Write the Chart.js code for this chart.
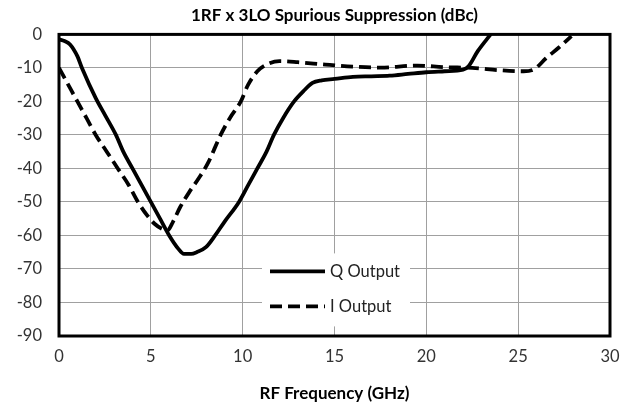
<!DOCTYPE html>
<html>
<head>
<meta charset="utf-8">
<script src="https://cdn.jsdelivr.net/npm/chart.js@4/dist/chart.umd.min.js"></script>
<style>
  html, body { margin: 0; padding: 0; background: #fff; }
  #chart { display: block; }
</style>
</head>
<body>
<canvas id="chart" width="633" height="415"></canvas>
<script>
// ===== data =====
const qFreq = [0, 0.3, 0.6, 1.0, 1.25, 2.0, 2.5, 3.1, 3.5, 4.0, 4.5, 5.0, 5.5, 6.0, 6.5, 6.8, 7.2, 7.5, 8.0, 8.5, 9.0, 9.8, 10.3, 10.8, 11.3, 11.7, 12.2, 12.8, 13.3, 13.8, 14.3, 15, 16, 17, 18, 19, 20, 21, 22, 22.3, 22.8, 23.5];
const qValues = [-1.5, -2, -3, -6.5, -10, -19, -24, -30, -35, -40, -45, -50, -55, -60, -64, -65.5, -65.5, -65, -63.5, -60, -56, -50, -45, -40, -35, -30, -25, -20, -17, -14.5, -13.7, -13.3, -12.7, -12.5, -12.3, -11.8, -11.3, -11, -10.5, -9.5, -5, 0];

const iFreq = [0, 0.5, 1.0, 1.5, 2.0, 2.6, 3.2, 3.8, 4.3, 4.8, 5.2, 5.6, 5.9, 6.2, 6.6, 7.1, 7.6, 8.1, 8.8, 9.3, 9.9, 10.3, 10.8, 11.3, 12.0, 13.0, 14.5, 16, 17.5, 19.5, 21, 22.5, 24, 25.3, 25.9, 26.5, 27.2, 27.9];
const iValues = [-10, -15, -20, -25, -30, -35, -40, -45, -50, -54, -56.5, -58, -58.5, -56, -51.5, -47, -43, -38.5, -30, -25, -20, -15, -11, -9, -8, -8.3, -9, -9.6, -9.9, -9.3, -9.8, -10, -10.7, -11, -10.3, -7.2, -4, -0.5];

const xTickValues = [0, 5, 10, 15, 20, 25, 30];
const yTickValues = [0, -10, -20, -30, -40, -50, -60, -70, -80, -90];

const seriesNames = ["Q Output", "I Output"];
const chartTitle = "1RF x 3LO Spurious Suppression (dBc)";
const xTitle = "RF Frequency (GHz)";

const FONT = "Lato, 'Open Sans', sans-serif";

function toPoints(xs, ys) {
  return xs.map((x, i) => ({ x, y: ys[i] }));
}

// ===== plot border (all four sides) =====
const plotBorder = {
  id: "plotBorder",
  afterDraw(chart) {
    const { ctx, chartArea: a } = chart;
    ctx.save();
    ctx.strokeStyle = "#000";
    ctx.lineWidth = 3;
    ctx.strokeRect(a.left, a.top, a.right - a.left, a.bottom - a.top);
    ctx.restore();
  }
};

// ===== legend inside the plot =====
const insideLegend = {
  id: "insideLegend",
  afterDatasetsDraw(chart) {
    const { ctx, chartArea: a } = chart;
    const boxL = a.left + 203, boxT = a.top + 219;
    ctx.save();
    ctx.fillStyle = "#fff";
    ctx.fillRect(boxL, boxT, 148, 73);

    chart.data.datasets.forEach((ds, i) => {
      const rowY = boxT + 18 + i * 35;
      ctx.beginPath();
      ctx.strokeStyle = ds.borderColor;
      ctx.lineWidth = ds.borderWidth;
      ctx.setLineDash(ds.borderDash || []);
      ctx.moveTo(boxL + 8, rowY);
      ctx.lineTo(boxL + 63, rowY);
      ctx.stroke();
      ctx.setLineDash([]);

      ctx.fillStyle = "#222";
      ctx.font = "16.5px " + FONT;
      ctx.textBaseline = "middle";
      ctx.fillText(ds.label, boxL + 68, rowY);
    });
    ctx.restore();
  }
};

new Chart(document.getElementById("chart"), {
  type: "line",
  data: {
    datasets: [
      {
        label: seriesNames[0],
        data: toPoints(qFreq, qValues),
        borderColor: "#000",
        borderWidth: 3.8,
        pointRadius: 0,
        cubicInterpolationMode: "monotone",
        fill: false
      },
      {
        label: seriesNames[1],
        data: toPoints(iFreq, iValues),
        borderColor: "#000",
        borderWidth: 3.8,
        borderDash: [12, 6],
        pointRadius: 0,
        cubicInterpolationMode: "monotone",
        fill: false
      }
    ]
  },
  options: {
    responsive: false,
    animation: false,
    devicePixelRatio: 1,
    layout: { padding: { left: 0, right: 23, top: 0, bottom: 0 } },
    plugins: {
      legend: { display: false },
      tooltip: { enabled: false },
      title: {
        display: true,
        text: chartTitle,
        fullSize: false,
        color: "#000",
        font: { family: FONT, size: 17, weight: "bold", lineHeight: 1.2 },
        padding: { top: 5, bottom: 9 }
      }
    },
    scales: {
      x: {
        type: "linear",
        min: 0,
        max: 30,
        afterBuildTicks: (scale) => { scale.ticks = xTickValues.map(v => ({ value: v })); },
        afterFit: (scale) => { scale.height = 79; },
        grid: { color: "#a0a0a0", lineWidth: 1, drawTicks: false },
        border: { display: false },
        ticks: { color: "#333", padding: 11, font: { family: FONT, size: 16.5 } },
        title: {
          display: true,
          text: xTitle,
          color: "#000",
          font: { family: FONT, size: 17, weight: "bold", lineHeight: 1.2 },
          padding: { top: 0, bottom: 11 }
        }
      },
      y: {
        type: "linear",
        min: -90,
        max: 0,
        afterBuildTicks: (scale) => { scale.ticks = yTickValues.map(v => ({ value: v })); },
        afterFit: (scale) => { scale.width = 59; },
        grid: { color: "#a0a0a0", lineWidth: 1, drawTicks: false },
        border: { display: false },
        ticks: { color: "#333", padding: 17, font: { family: FONT, size: 16.5 } }
      }
    }
  },
  plugins: [insideLegend, plotBorder]
});
</script>
</body>
</html>
